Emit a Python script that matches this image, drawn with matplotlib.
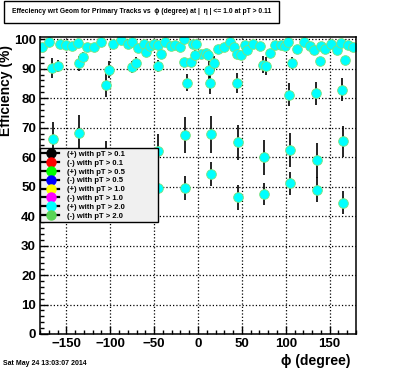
import numpy as np
import matplotlib
matplotlib.use('Agg')
import matplotlib.pyplot as plt

plt.rcParams['font.family'] = ['Liberation Sans', 'DejaVu Sans']
plt.rcParams['font.weight'] = 'bold'

# top band of points (errors are hidden under the markers)
phi_top = [-178, -170, -157, -150, -144, -137, -127, -119, -110, -97, -88, -80, -75,
           -68, -62, -59, -55, -50, -46, -38, -31, -26, -20, -16, -6, -2,
           3, 9, 11, 23, 30, 37, 41, 44, 49, 53, 56, 63, 71, 82, 88,
           94, 99, 102, 113, 121, 128, 132, 140, 145, 152, 158, 163, 171, 177]
eff_top = [97.3, 99.1, 98.3, 98.0, 97.6, 98.6, 97.3, 97.3, 99.1, 98.5, 99.8, 98.5, 98.9,
           97.0, 98.5, 95.8, 97.6, 98.3, 98.0, 98.9, 97.8, 98.0, 97.5, 99.9, 98.3, 98.5,
           94.9, 95.3, 94.6, 96.8, 97.2, 99.1, 97.2, 94.9, 94.7, 98.0, 96.3, 98.5, 97.8, 95.4, 98.0,
           98.0, 97.6, 99.0, 96.6, 99.0, 97.6, 96.3, 97.6, 96.6, 98.4, 96.4, 98.8, 98.0, 97.3]

# points around 90 %
phi_mid = [-166, -160, -136, -131, -101, -75, -71, -46, -42, -15.5, -8, -3,
           13, 18, 74, 78, 107.5, 138.5, 168]
eff_mid = [90.2, 91.0, 91.8, 93.8, 89.7, 90.6, 91.8, 91.0, 95.1, 92.1, 92.1, 94.8,
           89.5, 91.8, 91.4, 90.9, 91.8, 92.5, 92.9]
err_mid = [3.5, 2.0, 2.5, 2.0, 3.0, 2.0, 2.0, 2.0, 1.5, 1.5, 1.5, 1.5,
           3.0, 2.5, 3.0, 3.0, 2.0, 1.5, 1.5]

# points around 80-85 %
phi_80 = [-105, -12, 14, 44.5, 104, 134, 163.6]
eff_80 = [84.5, 85.3, 85.3, 85.1, 81.2, 81.6, 82.9]
err_80 = [4.0, 3.0, 4.0, 3.5, 4.0, 4.0, 4.0]

# points around 60-68 %
phi_60 = [-165, -135, -105, -75, -45, -15, 15, 45, 75, 105, 135, 165]
eff_60 = [66.0, 68.3, 58.0, 55.0, 62.0, 67.5, 67.7, 65.0, 59.9, 62.3, 58.9, 65.3]
err_60 = [6.0, 6.0, 7.5, 6.0, 6.0, 6.0, 6.2, 6.0, 6.0, 5.8, 6.0, 5.4]

# points around 45-55 %
phi_50 = [-165, -135, -105, -75, -45, -15, 15, 45, 75, 105, 135, 165]
eff_50 = [48.0, 50.0, 52.0, 47.0, 49.6, 49.6, 54.3, 46.3, 47.4, 51.1, 49.0, 44.6]
err_50 = [4.0, 4.0, 4.0, 4.0, 4.0, 4.0, 4.0, 4.2, 3.8, 3.9, 4.3, 4.0]

labels = ['(+) with pT > 0.1', '(-) with pT > 0.1', '(+) with pT > 0.5', '(-) with pT > 0.5',
          '(+) with pT > 1.0', '(-) with pT > 1.0', '(+) with pT > 2.0', '(-) with pT > 2.0']
colors = ['#000000', '#ff0000', '#00ff00', '#0000ff', '#ffff00', '#ff00ff', '#00ffff', '#59d454']

fig = plt.figure(figsize=(3.96, 3.72), dpi=100)
ax = fig.add_axes([0.101, 0.1022, 0.798, 0.798])

mk = dict(fmt='o', ms=7, mfc='#00ffff', mec='#7fe27a', mew=0.6,
          ecolor='black', elinewidth=1.2, capsize=0)
for p, e, s in [(phi_50, eff_50, err_50), (phi_60, eff_60, err_60),
                (phi_80, eff_80, err_80), (phi_mid, eff_mid, err_mid)]:
    ax.errorbar(p, e, yerr=s, **mk)
ax.plot(phi_top, eff_top, 'o', ms=7, mfc='#00ffff', mec='#7fe27a', mew=0.6)

ax.set_xlim(-180, 180)
ax.set_ylim(0, 100.7)
ax.set_xticks(np.arange(-150, 151, 50))
ax.set_xticks(np.arange(-180, 181, 10), minor=True)
ax.set_yticks(np.arange(0, 101, 10))
ax.set_yticks(np.arange(0, 101, 2), minor=True)
ax.tick_params(which='both', direction='in', top=False, right=False, labelsize=9.5, width=1)
ax.tick_params(which='major', length=6)
ax.tick_params(which='minor', length=3)
ax.tick_params(axis='y', pad=3)
ax.tick_params(axis='x', pad=3)
for lab in ax.get_xticklabels() + ax.get_yticklabels():
    lab.set_fontweight('bold')
ax.grid(True, which='major', color='black', linestyle=':', linewidth=0.9)
for sp in ax.spines.values():
    sp.set_linewidth(1.1)

ax.set_ylabel('Efficiency (%)', fontsize=10, fontweight='bold')
ax.yaxis.set_label_coords(-0.085, 0.82)
fig.text(0.885, 0.02, 'ϕ (degree)', fontsize=10, fontweight='bold', ha='right')
fig.text(0.008, 0.02, 'Sat May 24 13:03:07 2014', fontsize=5, fontweight='bold')

# legend
handles = []
for lab, c in zip(labels, colors):
    h, = ax.plot([], [], '-', color='black', lw=1.6, marker='o', ms=6.5, mfc=c, mec=c)
    handles.append(h)
leg = ax.legend(handles, labels, loc='upper left', bbox_to_anchor=(0.0, 0.374, 0.373, 0.252),
                mode='expand', frameon=True, fancybox=False, framealpha=1,
                facecolor='#f0f0f0', edgecolor='black', borderaxespad=0, borderpad=0.3,
                labelspacing=0.2, handlelength=2.2, handletextpad=1.0, prop={'weight': 'bold', 'size': 5.5})
leg.get_frame().set_linewidth(1)
leg.set_zorder(5)

# title box
fig.text(0.03, 0.968, 'Effeciency wrt Geom for Primary Tracks vs  ϕ (degree) at |  η | <= 1.0 at pT > 0.11',
         fontsize=4.9, fontweight='bold', va='center', ha='left',
         bbox=dict(boxstyle='square,pad=1.1', facecolor='white', edgecolor='black', linewidth=1))

fig.savefig('out.png', dpi=100)
